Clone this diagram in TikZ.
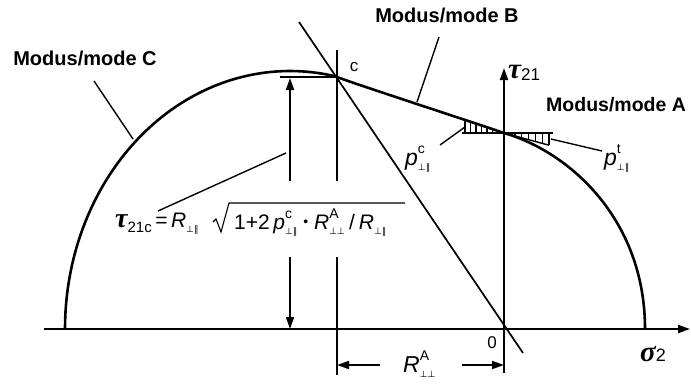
\documentclass[tikz,border=0pt]{standalone}
\usepackage{fontspec}
\setmainfont{Liberation Sans}
\newfontfamily\greekfont{Liberation Serif}
\newfontfamily\symfont{DejaVu Sans}
\usetikzlibrary{arrows.meta}
\newcommand{\gk}[1]{{\greekfont\bfseries\itshape #1}}
\newcommand{\sbsc}[1]{\raisebox{-0.25em}{\fontsize{9}{9}\selectfont\symfont #1}}
\newcommand{\supsubx}[2]{\mbox{\setbox0\hbox{\fontsize{14}{14}\selectfont #1}\setbox2\hbox{\fontsize{9}{9}\selectfont\symfont #2}\ifdim\wd0>\wd2 \dimen0=\wd0 \else \dimen0=\wd2 \fi\rlap{\raisebox{0.5em}{\box0}}\rlap{\raisebox{-0.25em}{\box2}}\hspace{\dimen0}}}
\tikzset{
  curvestyle/.style={line width=2.6pt, line join=round},
  axisstyle/.style={line width=2pt},
  thinline/.style={line width=1.4pt},
  arr/.style={-{Triangle[length=12pt,width=8pt]}},
  lbl/.style={font=\bfseries\fontsize{20}{20}\selectfont, inner sep=0pt},
  txt/.style={font=\fontsize{21}{21}\selectfont, inner sep=0pt},
  bigtxt/.style={font=\fontsize{23}{23}\selectfont, inner sep=0pt},
}
\begin{document}
\begin{tikzpicture}[x=1pt,y=-1pt]
\useasboundingbox (0,0) rectangle (691,383);
% coordinates
\coordinate (O) at (504,329);
\coordinate (xs) at (44,329);
\coordinate (xe) at (690,329);
\coordinate (ys) at (504,373);
\coordinate (ye) at (504,68);
\coordinate (c) at (337,77);
\coordinate (T) at (504,133);
\coordinate (L) at (65,329);
\coordinate (Rr) at (645,329);
% axes
\draw[axisstyle,arr] (xs) -- (xe);
\draw[axisstyle,arr] (ys) -- (ye);
% failure curve
\draw[curvestyle] plot[domain=180:77.9,samples=80] ({290+225*cos(\x)},{329-258*sin(\x)});
\draw[curvestyle] (c) .. controls (355,84) and (460,118) .. (T);
\draw[curvestyle] (T) .. controls (570,152) and (645,220) .. (Rr);
% diagonal line
\coordinate (d1) at (299,22);
\coordinate (d2) at (523,353);
\draw[line width=1.7pt] (d1) -- (d2);
% vertical line through c
\coordinate (v1) at (337,50);
\coordinate (v2) at (337,181);
\coordinate (v3) at (337,257);
\coordinate (v4) at (337,375);
\draw[line width=1.7pt] (v1) -- (v2);
\draw[line width=1.7pt] (v3) -- (v4);
% tick at top and height arrows
\coordinate (h1) at (280,77);
\draw[line width=1.7pt] (h1) -- (c);
\coordinate (a1) at (290,181);
\coordinate (a2) at (290,78);
\coordinate (a3) at (290,257);
\coordinate (a4) at (290,329);
\draw[line width=1.7pt,arr] (a1) -- (a2);
\draw[line width=1.7pt,arr] (a3) -- (a4);
% bottom dimension
\coordinate (b1) at (380,365);
\coordinate (b2) at (337,365);
\coordinate (b3) at (462,365);
\coordinate (b4) at (504,365);
\draw[line width=1.7pt,arr] (b1) -- (b2);
\draw[line width=1.7pt,arr] (b3) -- (b4);
% tangent hatching
\coordinate (t1) at (462,133);
\coordinate (t2) at (553,133);
\draw[line width=1.7pt] (t1) -- (t2);
\coordinate (tr) at (549,145.2);
\draw[thinline] (T) -- (tr);
\foreach \xx in {465,470.5,...,500} \draw[line width=1.2pt] (\xx,133) -- (\xx,{133-(504-\xx)*0.3});
\foreach \xx in {515,521.8,...,550} \draw[line width=1.2pt] (\xx,133) -- (\xx,{133+(\xx-504)*0.27});
% labels
\node[lbl] (mC) at (85,58) {Modus/mode C};
\node[lbl] (mB) at (447,15) {Modus/mode B};
\node[lbl,anchor=west,font=\bfseries\fontsize{19.5}{19.5}\selectfont] (mA) at (546,105) {Modus/mode A};
\node[inner sep=0pt,font=\fontsize{17}{17}\selectfont] (cl) at (354,67) {c};
\node[inner sep=0pt,anchor=base west] (tau) at (508,78) {\gk{\fontsize{29}{29}\selectfont τ}\raisebox{-0.2em}{\fontsize{17}{17}\selectfont 21}};
\node[inner sep=0pt,anchor=base west] (sig) at (640,361) {\gk{\fontsize{29}{29}\selectfont σ}{\fontsize{18}{18}\selectfont 2}};
\node[inner sep=0pt,font=\fontsize{17}{17}\selectfont] (zero) at (492,343) {0};
\node[bigtxt,anchor=base west] (RA) at (403,372) {\textit{R}\supsubx{A}{⊥⊥}};
\node[bigtxt,anchor=base west] (pc) at (405,165) {\textit{p}\supsubx{c}{⊥∥}};
\node[bigtxt,anchor=base west] (pt) at (604,165) {\textit{p}\supsubx{t}{⊥∥}};
% formula
\node[txt,anchor=base west] (f1) at (115,227) {\gk{\fontsize{28}{28}\selectfont τ}\raisebox{-0.25em}{\fontsize{15}{15}\selectfont 21c}\,=\,\textit{R}\sbsc{⊥∥}};
\node[txt,anchor=base west] (f2) at (234,229) {1+2\,\textit{p}\supsubx{c}{⊥∥}\hspace{6pt}\raisebox{0.1em}{\fontsize{14}{14}\selectfont •}\hspace{6pt}\textit{R}\supsubx{A}{⊥⊥}\hspace{4pt}/\hspace{4pt}\textit{R}\sbsc{⊥∥}};
\coordinate (r1) at (213,222);
\coordinate (r2) at (216,219);
\coordinate (r3) at (221,232);
\coordinate (r4) at (229,203);
\coordinate (r5) at (405,203);
\draw[line width=1.1pt,line join=miter] (r1) -- (r2) -- (r3) -- (r4) -- (r5);
% leaders
\coordinate (lC1) at (94,81);
\coordinate (lC2) at (133,139);
\draw[thinline] (lC1) -- (lC2);
\coordinate (lB1) at (439,37);
\coordinate (lB2) at (417,102);
\draw[thinline] (lB1) -- (lB2);
\coordinate (lf1) at (158,211);
\coordinate (lf2) at (286,153);
\draw[thinline] (lf1) -- (lf2);
\coordinate (lp1) at (440,145);
\coordinate (lp2) at (465,127);
\draw[thinline] (lp1) -- (lp2);
\coordinate (lt1) at (551,139);
\coordinate (lt2) at (602,151);
\draw[thinline] (lt1) -- (lt2);
\end{tikzpicture}
\end{document}
